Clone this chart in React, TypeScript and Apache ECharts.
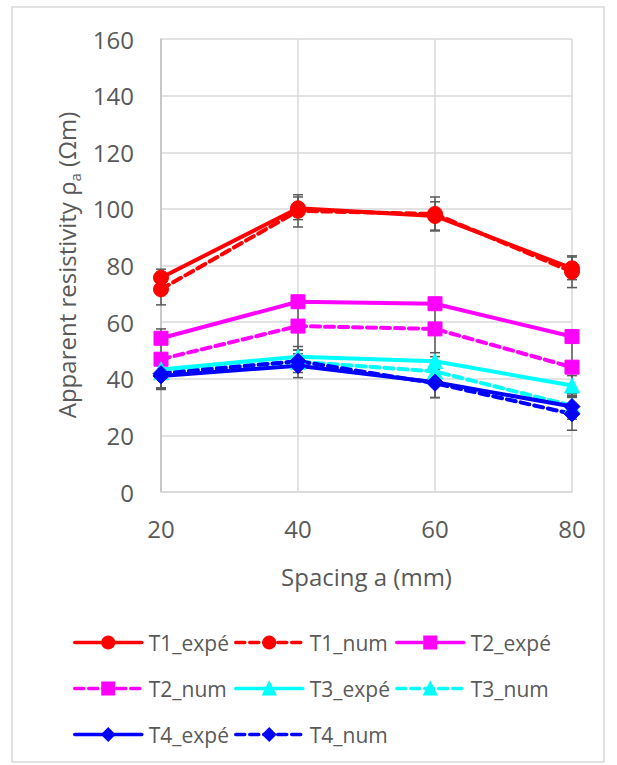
import React, { useEffect, useRef } from "react";
import * as echarts from "echarts";

const spacing = [20, 40, 60, 80];
const yTicks = [0, 20, 40, 60, 80, 100, 120, 140, 160];

const t1Expe = [75.7, 100.2, 97.5, 79.0];
const t1Num = [71.6, 99.3, 98.2, 77.8];
const t2Expe = [54.3, 67.2, 66.5, 54.9];
const t2Num = [46.9, 58.6, 57.6, 44.1];
const t3Expe = [43.3, 47.8, 46.2, 37.6];
const t3Num = [42.3, 46.0, 42.6, 30.5];
const t4Expe = [41.0, 44.6, 38.8, 30.2];
const t4Num = [41.8, 46.2, 38.4, 27.6];

const t1ExpeErr = [3.0, 4.0, 5.0, 4.0];
const t1NumErr = [5.5, 5.7, 6.0, 5.6];
const t2NumErr = [10.7, 8.5, 9.8, 10.4];
const t3ExpeErr = [3.0, 3.6, 3.0, 3.5];
const t4ExpeErr = [4.5, 4.2, 5.5, 4.5];
const t4NumErr = [5.0, 4.0, 5.0, 5.8];

const seriesNames = ["T1_expé", "T1_num", "T2_expé", "T2_num", "T3_expé", "T3_num", "T4_expé", "T4_num"];

const FONT = "'Open Sans', sans-serif";
const TXT = "#595959";

export default function App() {
  const ref = useRef<HTMLDivElement>(null);
  useEffect(() => {
    if (!ref.current) return;
    const chart = echarts.init(ref.current, null, { renderer: "svg" });

    const pts = (v: number[]) => spacing.map((x, i) => [x, v[i]]);
    const errPts = (v: number[], e: number[]) => spacing.map((x, i) => [x, v[i] - e[i], v[i] + e[i]]);

    const mkLine = (name: string, vals: number[], color: string, dashed: boolean, symbol: string, size: number) => ({
      type: "line",
      name,
      data: pts(vals),
      z: 3,
      symbol,
      symbolSize: size,
      lineStyle: { color, width: 4, type: dashed ? [9, 5] : "solid", cap: "round" },
      itemStyle: { color, borderColor: color, borderWidth: 1 },
      emphasis: { disabled: true },
    });

    const errorSeries = (vals: number[], errs: number[]) => ({
      type: "custom",
      z: 2,
      silent: true,
      data: errPts(vals, errs),
      renderItem: (params: any, api: any) => {
        const x = api.value(0);
        const lo = api.coord([x, api.value(1)]);
        const hi = api.coord([x, api.value(2)]);
        const hw = 5;
        const st = { stroke: "#595959", lineWidth: 1.5 };
        return {
          type: "group",
          children: [
            { type: "line", shape: { x1: lo[0], y1: lo[1], x2: hi[0], y2: hi[1] }, style: st },
            { type: "line", shape: { x1: lo[0] - hw, y1: lo[1], x2: lo[0] + hw, y2: lo[1] }, style: st },
            { type: "line", shape: { x1: hi[0] - hw, y1: hi[1], x2: hi[0] + hw, y2: hi[1] }, style: st },
          ],
        };
      },
    });

    const colX = [73, 234, 395];
    const rowY = [645, 691, 737];
    const legends = seriesNames.map((n, i) => ({
      data: [n],
      left: colX[i % 3],
      top: rowY[Math.floor(i / 3)] - 13,
      padding: 0,
      itemWidth: 67,
      itemHeight: 15,
      selectedMode: false,
      lineStyle: { width: 3.5 },
      textStyle: { fontFamily: FONT, fontSize: 21, color: TXT, padding: [0, 0, 0, 2] },
    }));

    chart.setOption({
      animation: false,
      backgroundColor: "#ffffff",
      grid: { left: 161, top: 39, right: 45, bottom: 273, containLabel: false },
      legend: legends,
      xAxis: {
        type: "value",
        min: 20,
        max: 80,
        interval: 20,
        name: "Spacing a (mm)",
        nameLocation: "middle",
        nameGap: 72,
        nameTextStyle: { fontFamily: FONT, fontSize: 24, color: TXT },
        axisLine: { show: true, lineStyle: { color: "#d9d9d9", width: 1.5 } },
        axisTick: { show: false },
        axisLabel: { fontFamily: FONT, fontSize: 24, color: TXT, margin: 24, formatter: (v: number) => String(v) },
        splitLine: { show: true, lineStyle: { color: "#d9d9d9", width: 1.5 } },
      },
      yAxis: {
        type: "value",
        min: yTicks[0],
        max: yTicks[yTicks.length - 1],
        interval: 20,
        axisLine: { show: true, lineStyle: { color: "#bfbfbf", width: 1.5 } },
        axisTick: { show: false },
        axisLabel: { fontFamily: FONT, fontSize: 24, color: TXT, margin: 27 },
        splitLine: { show: true, lineStyle: { color: "#d9d9d9", width: 1.5 } },
      },
      graphic: [
        {
          type: "rect",
          shape: { x: 12, y: 7, width: 592, height: 755 },
          style: { fill: "none", stroke: "#d9d9d9", lineWidth: 1.5 },
          silent: true,
        },
        {
          type: "text",
          x: 66,
          y: 265,
          rotation: Math.PI / 2,
          style: {
            text: "{m|Apparent resistivity ρ}{s|a}{m| (Ωm)}",
            align: "center",
            verticalAlign: "middle",
            rich: {
              m: { fontFamily: FONT, fontSize: 24, fill: TXT, lineHeight: 32, verticalAlign: "middle" },
              s: { fontFamily: FONT, fontSize: 15, fill: TXT, lineHeight: 32, verticalAlign: "bottom", padding: [8, 0, 0, 0] },
            },
          },
        },
      ],
      series: [
        errorSeries(t1Expe, t1ExpeErr),
        errorSeries(t1Num, t1NumErr),
        errorSeries(t2Num, t2NumErr),
        errorSeries(t3Expe, t3ExpeErr),
        errorSeries(t4Expe, t4ExpeErr),
        errorSeries(t4Num, t4NumErr),
        mkLine("T1_expé", t1Expe, "#FF0000", false, "circle", 15),
        mkLine("T1_num", t1Num, "#FF0000", true, "circle", 15),
        mkLine("T2_expé", t2Expe, "#FF00FF", false, "rect", 14),
        mkLine("T2_num", t2Num, "#FF00FF", true, "rect", 14),
        mkLine("T3_expé", t3Expe, "#00FFFF", false, "triangle", 15),
        mkLine("T3_num", t3Num, "#00FFFF", true, "triangle", 15),
        mkLine("T4_expé", t4Expe, "#0000FF", false, "diamond", 16),
        mkLine("T4_num", t4Num, "#0000FF", true, "diamond", 16),
      ],
    });
    return () => chart.dispose();
  }, []);
  return <div ref={ref} style={{ position: "fixed", left: 0, top: 0, width: 617, height: 765 }} />;
}
